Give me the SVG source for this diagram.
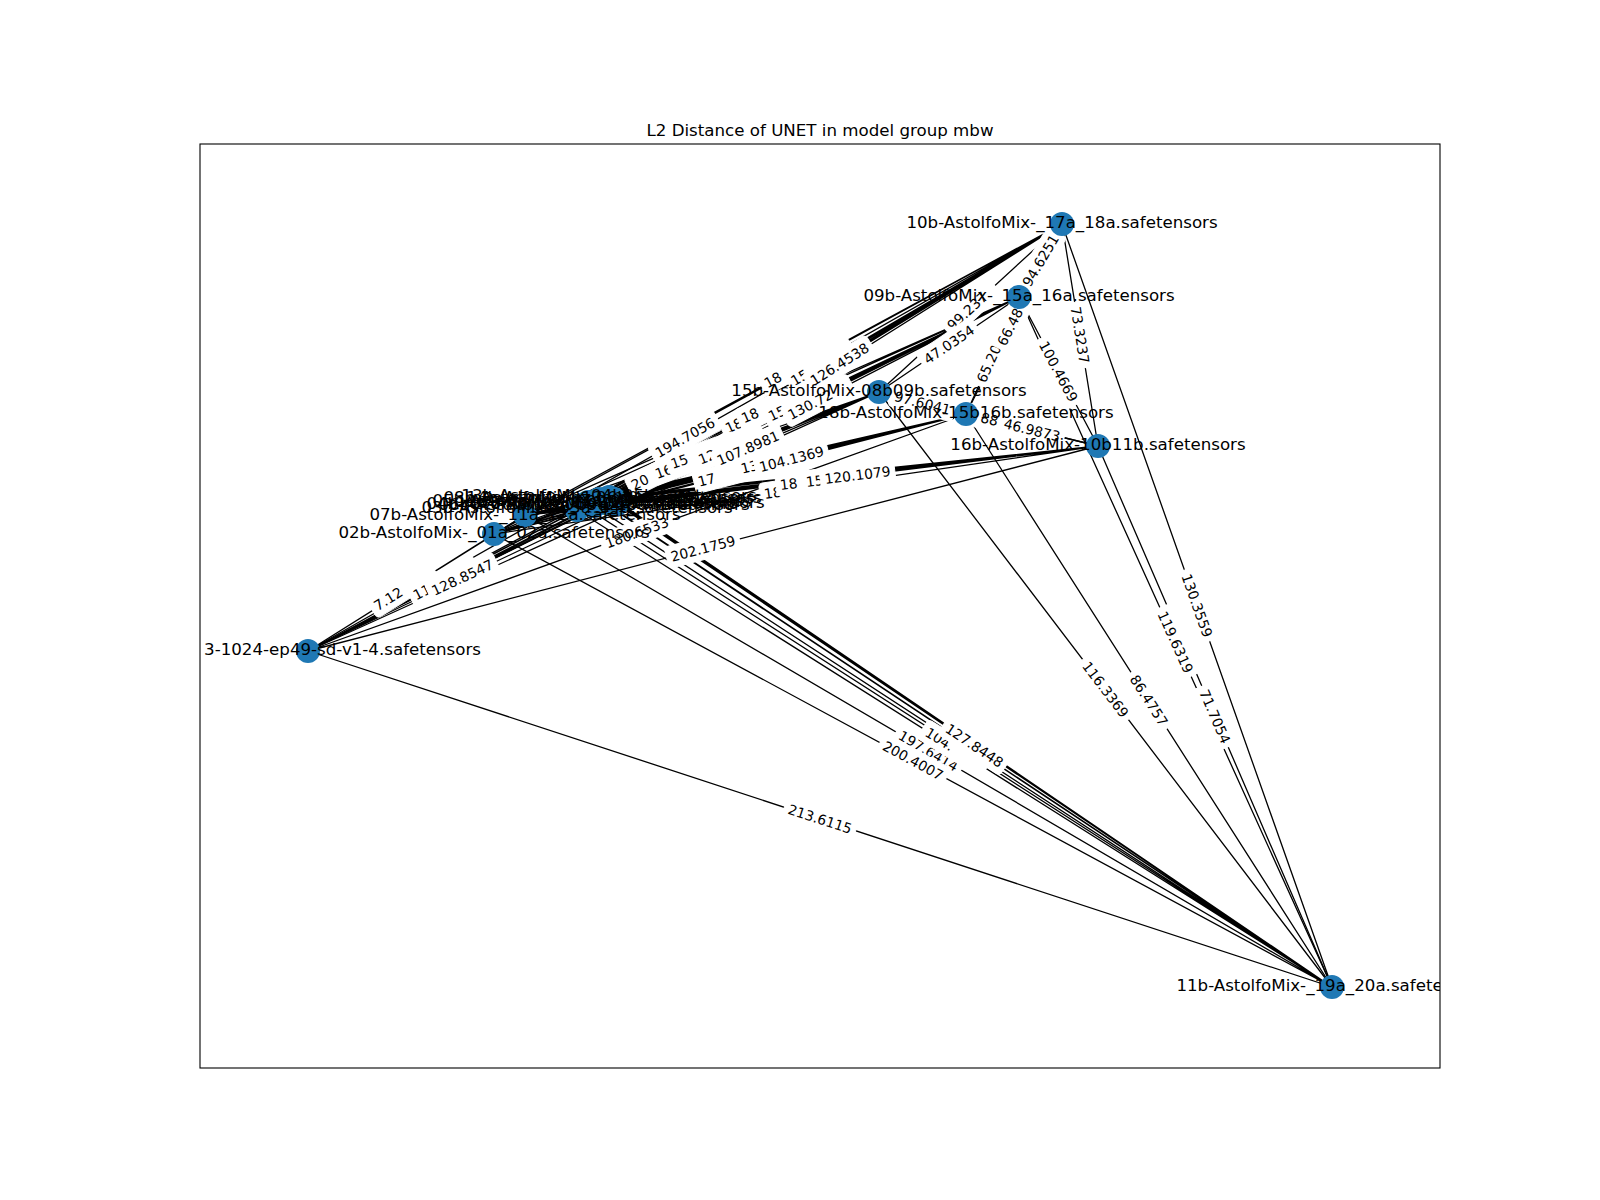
<svg xmlns="http://www.w3.org/2000/svg" width="1600" height="1200" viewBox="0 0 1600 1200">
<style>
.e{stroke:#000;stroke-width:1.3;fill:none}
.n{fill:#1f78b4}
.nl{font-family:"DejaVu Sans",sans-serif;font-size:16.67px;text-anchor:middle;dominant-baseline:central;fill:#000}
.el rect{fill:#fff;stroke:#fff}
.el text{font-family:"DejaVu Sans",sans-serif;font-size:13.9px;text-anchor:middle;dominant-baseline:central;fill:#000}
.el text.s{text-anchor:start}
.t{font-family:"DejaVu Sans",sans-serif;font-size:16.67px;text-anchor:middle;fill:#000}
</style>
<defs>
<clipPath id="ax"><rect x="200" y="144" width="1240" height="924"/></clipPath>
</defs>
<rect x="0" y="0" width="1600" height="1200" fill="#fff"/>
<text class="t" x="820" y="136">L2 Distance of UNET in model group mbw</text>
<g id="connectors" clip-path="url(#ax)">
<path class="e" d="M1062 224L1019 297M1062 224L879 392M1062 224L966 414M1062 224L1098 446M1062 224L1332 987M1062 224L308 651M1062 224L494 534M1062 224L525 515M1062 224L577 510M1062 224L582 505M1062 224L588 502M1062 224L594 506M1062 224L599 499M1062 224L604 503M1062 224L609 497M1062 224L614 499M1062 224L617 504"/>
<path class="e" d="M1019 297L879 392M1019 297L966 414M1019 297L1098 446M1019 297L1332 987M1019 297L308 651M1019 297L494 534M1019 297L525 515M1019 297L577 510M1019 297L582 505M1019 297L588 502M1019 297L594 506M1019 297L599 499M1019 297L604 503M1019 297L609 497M1019 297L614 499M1019 297L617 504"/>
<path class="e" d="M879 392L966 414M879 392L1098 446M879 392L1332 987M879 392L308 651M879 392L494 534M879 392L525 515M879 392L577 510M879 392L582 505M879 392L588 502M879 392L594 506M879 392L599 499M879 392L604 503M879 392L609 497M879 392L614 499M879 392L617 504"/>
<path class="e" d="M966 414L1098 446M966 414L1332 987M966 414L308 651M966 414L494 534M966 414L525 515M966 414L577 510M966 414L582 505M966 414L588 502M966 414L594 506M966 414L599 499M966 414L604 503M966 414L609 497M966 414L614 499M966 414L617 504"/>
<path class="e" d="M1098 446L1332 987M1098 446L308 651M1098 446L494 534M1098 446L525 515M1098 446L577 510M1098 446L582 505M1098 446L588 502M1098 446L594 506M1098 446L599 499M1098 446L604 503M1098 446L609 497M1098 446L614 499M1098 446L617 504"/>
<path class="e" d="M1332 987L308 651M1332 987L494 534M1332 987L525 515M1332 987L577 510M1332 987L582 505M1332 987L588 502M1332 987L594 506M1332 987L599 499M1332 987L604 503M1332 987L609 497M1332 987L614 499M1332 987L617 504"/>
<path class="e" d="M308 651L494 534M308 651L525 515M308 651L577 510M308 651L582 505M308 651L588 502M308 651L594 506M308 651L599 499M308 651L604 503M308 651L609 497M308 651L614 499M308 651L617 504"/>
<path class="e" d="M494 534L525 515M494 534L577 510M494 534L582 505M494 534L588 502M494 534L594 506M494 534L599 499M494 534L604 503M494 534L609 497M494 534L614 499M494 534L617 504"/>
<path class="e" d="M525 515L577 510M525 515L582 505M525 515L588 502M525 515L594 506M525 515L599 499M525 515L604 503M525 515L609 497M525 515L614 499M525 515L617 504"/>
</g>
<g id="edge-labels" class="el" clip-path="url(#ax)">
<g transform="translate(375,607) rotate(-32)"><rect x="-4" y="-11" width="74" height="22" rx="4"/><text class="s" x="0">7.12</text></g>
<g transform="translate(414,596) rotate(-27.3)"><rect x="-4" y="-11" width="74" height="22" rx="4"/><text class="s" x="0">11</text></g>
<g transform="translate(632,486) rotate(-26.5)"><rect x="-4" y="-11" width="74" height="22" rx="4"/><text class="s" x="0">20</text></g>
<g transform="translate(685,437.5) rotate(-29.52)"><rect x="-37.5" y="-11" width="75" height="22" rx="4"/><text>194.7056</text></g>
<g transform="translate(820,819) rotate(18.17)"><rect x="-37.5" y="-11" width="75" height="22" rx="4"/><text>213.6115</text></g>
<g transform="translate(703,548.5) rotate(-14.55)"><rect x="-37.5" y="-11" width="75" height="22" rx="4"/><text>202.1759</text></g>
<g transform="translate(637,532.5) rotate(-19.8)"><rect x="-37.5" y="-11" width="75" height="22" rx="4"/><text>180.6533</text></g>
<g transform="translate(462.5,577.5) rotate(-25.14)"><rect x="-37.5" y="-11" width="75" height="22" rx="4"/><text>128.8547</text></g>
<g transform="translate(655.5,474.4) rotate(-20.2)"><rect x="-4" y="-11" width="74" height="22" rx="4"/><text class="s" x="0">16</text></g>
<g transform="translate(698,482) rotate(-14.3)"><rect x="-4" y="-11" width="74" height="22" rx="4"/><text class="s" x="0">17</text></g>
<g transform="translate(764,494) rotate(-8.3)"><rect x="-4" y="-11" width="74" height="22" rx="4"/><text class="s" x="0">18</text></g>
<g transform="translate(726,429) rotate(-24.3)"><rect x="-4" y="-11" width="74" height="22" rx="4"/><text class="s" x="0">18</text></g>
<g transform="translate(765,384) rotate(-28.5)"><rect x="-4" y="-11" width="74" height="22" rx="4"/><text class="s" x="0">18</text></g>
<g transform="translate(742,419) rotate(-23.8)"><rect x="-4" y="-11" width="74" height="22" rx="4"/><text class="s" x="0">18</text></g>
<g transform="translate(671,464.3) rotate(-19.2)"><rect x="-4" y="-11" width="74" height="22" rx="4"/><text class="s" x="0">15</text></g>
<g transform="translate(780,485) rotate(-6.9)"><rect x="-4" y="-11" width="74" height="22" rx="4"/><text class="s" x="0">18</text></g>
<g transform="translate(928.5,751) rotate(30.32)"><rect x="-37.5" y="-11" width="75" height="22" rx="4"/><text>197.6414</text></g>
<g transform="translate(913,760.5) rotate(28.39)"><rect x="-37.5" y="-11" width="75" height="22" rx="4"/><text>200.4007</text></g>
<g transform="translate(792,382) rotate(-30.7)"><rect x="-4" y="-11" width="74" height="22" rx="4"/><text class="s" x="0">15</text></g>
<g transform="translate(769,417) rotate(-25.9)"><rect x="-4" y="-11" width="74" height="22" rx="4"/><text class="s" x="0">15</text></g>
<g transform="translate(699,460) rotate(-21.7)"><rect x="-4" y="-11" width="74" height="22" rx="4"/><text class="s" x="0">12</text></g>
<g transform="translate(741,469) rotate(-14.1)"><rect x="-4" y="-11" width="74" height="22" rx="4"/><text class="s" x="0">13</text></g>
<g transform="translate(806,482) rotate(-6.8)"><rect x="-4" y="-11" width="74" height="22" rx="4"/><text class="s" x="0">15</text></g>
<g transform="translate(954.5,748.5) rotate(32.17)"><rect x="-37.5" y="-11" width="75" height="22" rx="4"/><text class="s" x="-33">104.</text></g>
<g transform="translate(839.5,364) rotate(-32.36)"><rect x="-37.5" y="-11" width="75" height="22" rx="4"/><text>126.4538</text></g>
<g transform="translate(818,400.5) rotate(-27.47)"><rect x="-37.5" y="-11" width="75" height="22" rx="4"/><text class="s" x="-33">130.72</text></g>
<g transform="translate(748,448) rotate(-23.5)"><rect x="-37.5" y="-11" width="75" height="22" rx="4"/><text>107.8981</text></g>
<g transform="translate(791.5,459) rotate(-14.77)"><rect x="-37.5" y="-11" width="75" height="22" rx="4"/><text>104.1369</text></g>
<g transform="translate(857.5,475) rotate(-7.11)"><rect x="-37.5" y="-11" width="75" height="22" rx="4"/><text>120.1079</text></g>
<g transform="translate(974.5,745.5) rotate(33.93)"><rect x="-37.5" y="-11" width="75" height="22" rx="4"/><text>127.8448</text></g>
<g transform="translate(970.5,308) rotate(-42.55)"><rect x="-33" y="-11" width="66" height="22" rx="4"/><text class="s" x="-28.8">99.237</text></g>
<g transform="translate(949,344.5) rotate(-34.16)"><rect x="-33" y="-11" width="66" height="22" rx="4"/><text>47.0354</text></g>
<g transform="translate(1040.5,260.5) rotate(-59.5)"><rect x="-33" y="-11" width="66" height="22" rx="4"/><text>94.6251</text></g>
<g transform="translate(992.5,355.5) rotate(-65.6)"><rect x="-33" y="-11" width="66" height="22" rx="4"/><text class="s" x="-28.8">65.20</text></g>
<g transform="translate(1014,319) rotate(-63.2)"><rect x="-33" y="-11" width="66" height="22" rx="4"/><text class="s" x="-28.8">66.48</text></g>
<g transform="translate(1080,335) rotate(80.8)"><rect x="-33" y="-11" width="66" height="22" rx="4"/><text>73.3237</text></g>
<g transform="translate(1058.5,371.5) rotate(62.07)"><rect x="-37.5" y="-11" width="75" height="22" rx="4"/><text>100.4669</text></g>
<g transform="translate(922.5,403) rotate(14.19)"><rect x="-33" y="-11" width="66" height="22" rx="4"/><text>97.6041</text></g>
<g transform="translate(988.5,419) rotate(13.85)"><rect x="-33" y="-11" width="66" height="22" rx="4"/><text x="1">88</text></g>
<g transform="translate(1032,430) rotate(13.63)"><rect x="-33" y="-11" width="66" height="22" rx="4"/><text>46.9873</text></g>
<g transform="translate(1105.5,689.5) rotate(52.72)"><rect x="-37.5" y="-11" width="75" height="22" rx="4"/><text>116.3369</text></g>
<g transform="translate(1149,700.5) rotate(57.43)"><rect x="-33" y="-11" width="66" height="22" rx="4"/><text>86.4757</text></g>
<g transform="translate(1175.5,642) rotate(65.6)"><rect x="-37.5" y="-11" width="75" height="22" rx="4"/><text>119.6319</text></g>
<g transform="translate(1215,716.5) rotate(66.61)"><rect x="-33" y="-11" width="66" height="22" rx="4"/><text>71.7054</text></g>
<g transform="translate(1197,605.5) rotate(70.51)"><rect x="-37.5" y="-11" width="75" height="22" rx="4"/><text>130.3559</text></g>
</g>
<g id="nodes" clip-path="url(#ax)">
<g id="n02b"><circle class="n" cx="494" cy="534" r="12"/></g>
<g id="n03b"><circle class="n" cx="577" cy="510" r="12"/></g>
<g id="n04b"><circle class="n" cx="582" cy="505" r="12"/></g>
<g id="n05b"><circle class="n" cx="588" cy="502" r="12"/></g>
<g id="n06b"><circle class="n" cx="594" cy="506" r="12"/></g>
<g id="n07b"><circle class="n" cx="525" cy="515" r="12"/></g>
<g id="n08b"><circle class="n" cx="599" cy="499" r="12"/></g>
<g id="n09b"><circle class="n" cx="1019" cy="297" r="12"/></g>
<g id="n10b"><circle class="n" cx="1062" cy="224" r="12"/></g>
<g id="n11b"><circle class="n" cx="1332" cy="987" r="12"/></g>
<g id="n12b"><circle class="n" cx="604" cy="503" r="12"/></g>
<g id="n13b"><circle class="n" cx="609" cy="497" r="12"/></g>
<g id="n14b"><circle class="n" cx="614" cy="499" r="12"/></g>
<g id="n15b"><circle class="n" cx="879" cy="392" r="12"/></g>
<g id="n16b"><circle class="n" cx="1098" cy="446" r="12"/></g>
<g id="n17b"><circle class="n" cx="617" cy="504" r="12"/></g>
<g id="n18b"><circle class="n" cx="966" cy="414" r="12"/></g>
<g id="nsd14"><circle class="n" cx="308" cy="651" r="12"/></g>
</g>
<g id="node-labels" clip-path="url(#ax)">
<text class="nl" x="577" y="507">03b-AstolfoMix-_03a_04a.safetensors</text>
<text class="nl" x="582" y="503">04b-AstolfoMix-_05a_06a.safetensors</text>
<text class="nl" x="588" y="500">05b-AstolfoMix-_07a_08a.safetensors</text>
<text class="nl" x="594" y="504">06b-AstolfoMix-_09a_10a.safetensors</text>
<text class="nl" x="599" y="497">08b-AstolfoMix-_13a_14a.safetensors</text>
<text class="nl" x="604" y="501">12b-AstolfoMix-02b03b.safetensors</text>
<text class="nl" x="609" y="495">13b-AstolfoMix-04b05b.safetensors</text>
<text class="nl" x="614" y="497">14b-AstolfoMix-06b07b.safetensors</text>
<text class="nl" x="617" y="502">17b-AstolfoMix-12b13b.safetensors</text>
<text class="nl" x="1019" y="295.5">09b-AstolfoMix-_15a_16a.safetensors</text>
<text class="nl" x="1062" y="222.5">10b-AstolfoMix-_17a_18a.safetensors</text>
<text class="nl" x="1332" y="985.5">11b-AstolfoMix-_19a_20a.safetensors</text>
<text class="nl" x="879" y="390.5">15b-AstolfoMix-08b09b.safetensors</text>
<text class="nl" x="1098" y="444.5">16b-AstolfoMix-10b11b.safetensors</text>
<text class="nl" x="966" y="412.5">18b-AstolfoMix-15b16b.safetensors</text>
<text class="nl" x="481" y="649.5" style="text-anchor:end">3-1024-ep49-sd-v1-4.safetensors</text>
<text class="nl" x="525" y="514">07b-AstolfoMix-_11a_12a.safetensors</text>
<text class="nl" x="494" y="532.5">02b-AstolfoMix-_01a_02a.safetensors</text>
</g>
<rect x="200" y="144" width="1240" height="924" fill="none" stroke="#000" stroke-width="1.1"/>
</svg>
